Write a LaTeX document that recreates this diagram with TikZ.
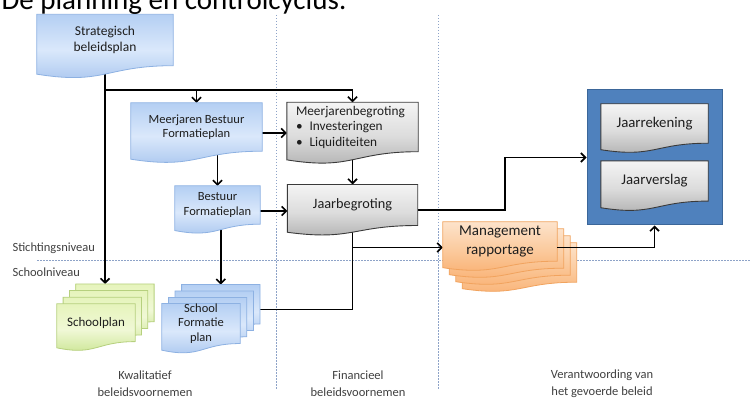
\documentclass[tikz,border=0pt]{standalone}
\usepackage{fontspec}
\setmainfont{Carlito}
\usepackage{xcolor}
\usetikzlibrary{calc,positioning,arrows.meta}

\definecolor{bluetop}{HTML}{B4CFF3}
\definecolor{bluemid}{HTML}{DAE8FB}
\definecolor{bluebot}{HTML}{A6C4EE}
\definecolor{blueedge}{HTML}{8DB1E2}
\definecolor{graytop}{HTML}{F4F4F4}
\definecolor{graymid}{HTML}{DCDCDC}
\definecolor{graybot}{HTML}{ADADAD}
\definecolor{grayedge}{HTML}{3A3A3A}
\definecolor{greentop}{HTML}{E6F4BC}
\definecolor{greenmid}{HTML}{F0F8D6}
\definecolor{greenbot}{HTML}{C8E48E}
\definecolor{greenedge}{HTML}{B6D07E}
\definecolor{orangetop}{HTML}{FDE3CB}
\definecolor{orangemid}{HTML}{FBCB9F}
\definecolor{orangebot}{HTML}{F9B071}
\definecolor{orangeedge}{HTML}{F1A35E}
\definecolor{framefill}{HTML}{4F81BD}
\definecolor{frameedge}{HTML}{3B6699}
\definecolor{guidecol}{HTML}{8EA3C8}
\definecolor{txt}{HTML}{1E1E1E}

\pgfdeclarelayer{links}
\pgfdeclarelayer{shapes}
\pgfsetlayers{links,shapes,main}

% document shape with a wavy lower edge, drawn round a node
\newcommand{\docshape}[2]{%
  \path[#2] let \p1=(#1.north west), \p2=(#1.south east) in
    (\x1,\y1) -- (\x2,\y1) -- (\x2,\y2)
    .. controls ({0.5*(\x1+\x2)},\y2) and ({0.5*(\x1+\x2)},{\y1+1.38*(\y2-\y1)})
    .. (\x1,{\y1+1.165*(\y2-\y1)}) -- cycle;}

\begin{document}
\begin{tikzpicture}[x=1pt,y=-1pt,text=txt,
  box/.style={inner sep=0pt, align=center, font=\fontsize{12.5}{14.5}\selectfont},
  zonetext/.style={align=center, font=\fontsize{12.5}{17}\selectfont, text=black!75},
  link/.style={line width=1.6pt},
  arr/.style={link, -{Straight Barb[length=4.5pt,width=9pt]}},
  guide/.style={guidecol, line width=0.8pt, dash pattern=on 1.5pt off 1.5pt},
  bluedoc/.style={top color=bluetop, bottom color=bluebot, middle color=bluemid, draw=blueedge, line width=0.8pt},
  graydoc/.style={top color=graytop, bottom color=graybot, middle color=graymid, draw=grayedge, line width=0.9pt},
  greendoc/.style={top color=greentop, bottom color=greenbot, middle color=greenmid, draw=greenedge, line width=0.8pt},
  orangedoc/.style={top color=orangetop, bottom color=orangebot, middle color=orangemid, draw=orangeedge, line width=0.8pt}]
\useasboundingbox (0,0) rectangle (750,398);

% title, cut off at the top
\node[anchor=base west, font=\fontsize{29}{30}\selectfont, text=black] (title) at (-2,10) {De planning en controlcyclus:};

% stichting level
\node[box, minimum width=136pt, minimum height=51pt, font=\fontsize{13.5}{15.5}\selectfont] (strat) at (105,40) {Strategisch\\beleidsplan};
\node[box, minimum width=131pt, minimum height=48pt] (mbf) at (196.5,127) {Meerjaren Bestuur\\Formatieplan};
\node[box, minimum width=85pt, minimum height=38pt] (bf) at (217.5,205) {Bestuur\\Formatieplan};
\node[box, minimum width=131pt, minimum height=49pt, text width=113pt, inner xsep=9pt, align=left,
  font=\fontsize{13.3}{15.5}\selectfont] (mjb) at (352.5,127) {Meerjarenbegroting\\
  \textbullet\hspace{7pt}Investeringen\\ \textbullet\hspace{7pt}Liquiditeiten};
\node[box, minimum width=130pt, minimum height=40.6pt, font=\fontsize{14.3}{16}\selectfont] (jb) at (352.5,205) {Jaarbegroting};

% verantwoording
\node[box, minimum width=107pt, minimum height=39pt, font=\fontsize{14.8}{16}\selectfont] (jr) at (654.5,123.5) {Jaarrekening};
\node[box, minimum width=107pt, minimum height=39.8pt, font=\fontsize{14.8}{16}\selectfont] (jv) at (654.5,181) {Jaarverslag};
\node[box, minimum width=114pt, minimum height=39pt, font=\fontsize{15}{19}\selectfont] (mr) at (500,241.5) {Management\\rapportage};

% school level
\node[box, minimum width=78pt, minimum height=37.4pt, font=\fontsize{13}{15}\selectfont] (sp) at (96,322.7) {Schoolplan};
\node[box, minimum width=78pt, minimum height=39pt, font=\fontsize{12.5}{14.5}\selectfont] (sfp) at (201,323.5) {School\\Formatie\\plan};

% stacked pages behind
\foreach \i in {1,2,3} {
  \node[inner sep=0pt, minimum width=78pt, minimum height=37.4pt] (sp\i) at ($(sp)+({6.3*\i},{-6.6*\i})$) {};
  \node[inner sep=0pt, minimum width=78pt, minimum height=39pt] (sfp\i) at ($(sfp)+({6.6*\i},{-6.4*\i})$) {};
  \node[inner sep=0pt, minimum width=114pt, minimum height=39pt] (mr\i) at ($(mr)+({6.5*\i},{7*\i})$) {};
}

% zone labels
\node[zonetext, anchor=west] (stichting) at (9,248) {Stichtingsniveau};
\node[zonetext, anchor=west] (school) at (9,272) {Schoolniveau};
\node[zonetext] (kwal) at (145,383.5) {Kwalitatief\\beleidsvoornemen};
\node[zonetext] (fin) at (358,383.5) {Financieel\\beleidsvoornemen};
\node[zonetext] (verant) at (602,383.5) {Verantwoording van\\het gevoerde beleid};

\begin{pgfonlayer}{shapes}
  \node[fill=framefill, draw=frameedge, line width=1pt, minimum width=135pt, minimum height=135pt] (frame) at (654.5,157.5) {};
  \docshape{strat}{bluedoc}
  \docshape{mbf}{bluedoc}
  \docshape{bf}{bluedoc}
  \docshape{mjb}{graydoc}
  \docshape{jb}{graydoc}
  \docshape{jr}{graydoc}
  \docshape{jv}{graydoc}
  \foreach \i in {3,2,1} {
    \docshape{sp\i}{greendoc}
    \docshape{sfp\i}{bluedoc}
    \docshape{mr\i}{orangedoc}
  }
  \docshape{sp}{greendoc}
  \docshape{sfp}{bluedoc}
  \docshape{mr}{orangedoc}
\end{pgfonlayer}

\begin{pgfonlayer}{links}
  % zone guides
  \foreach \x in {276,438} \draw[guide] (\x,15) -- (\x,390);
  \draw[guide] (37,260) -- (750,260);
  % planning flow
  \coordinate (fork) at (strat |- 0,90);
  \draw[arr] (strat) -- (strat |- sp3.north);
  \draw[arr] (fork) -| (mjb.north);
  \draw[arr] (fork -| mbf.north) -- (mbf.north);
  \draw[arr] ([yshift=-6pt]mbf.east) -- ([yshift=-6pt]mjb.west);
  \draw[arr] (mbf.center -| bf.north) -- (bf.north);
  \draw[arr] (bf.center -| sfp3.north) -- (sfp3.north);
  \draw[arr] (mjb) -- (jb.north);
  \draw[arr] ([yshift=-6pt]bf.east) -- ([yshift=-6pt]jb.west);
  \draw[arr] ([yshift=-5pt]jb.east) -- ++(87,0) |- (frame.west);
  \coordinate (sfpout) at ([yshift=-5pt]sfp3.center);
  \draw[link] (jb) -- (jb |- sfpout) -- (sfpout);
  \coordinate (mrin) at ([yshift=-6pt]mr.west);
  \draw[arr] (mrin -| jb) -- (mrin);
\end{pgfonlayer}
\draw[arr] ([yshift=-6pt]mr.east) -| (frame.south);

\end{tikzpicture}
\end{document}
